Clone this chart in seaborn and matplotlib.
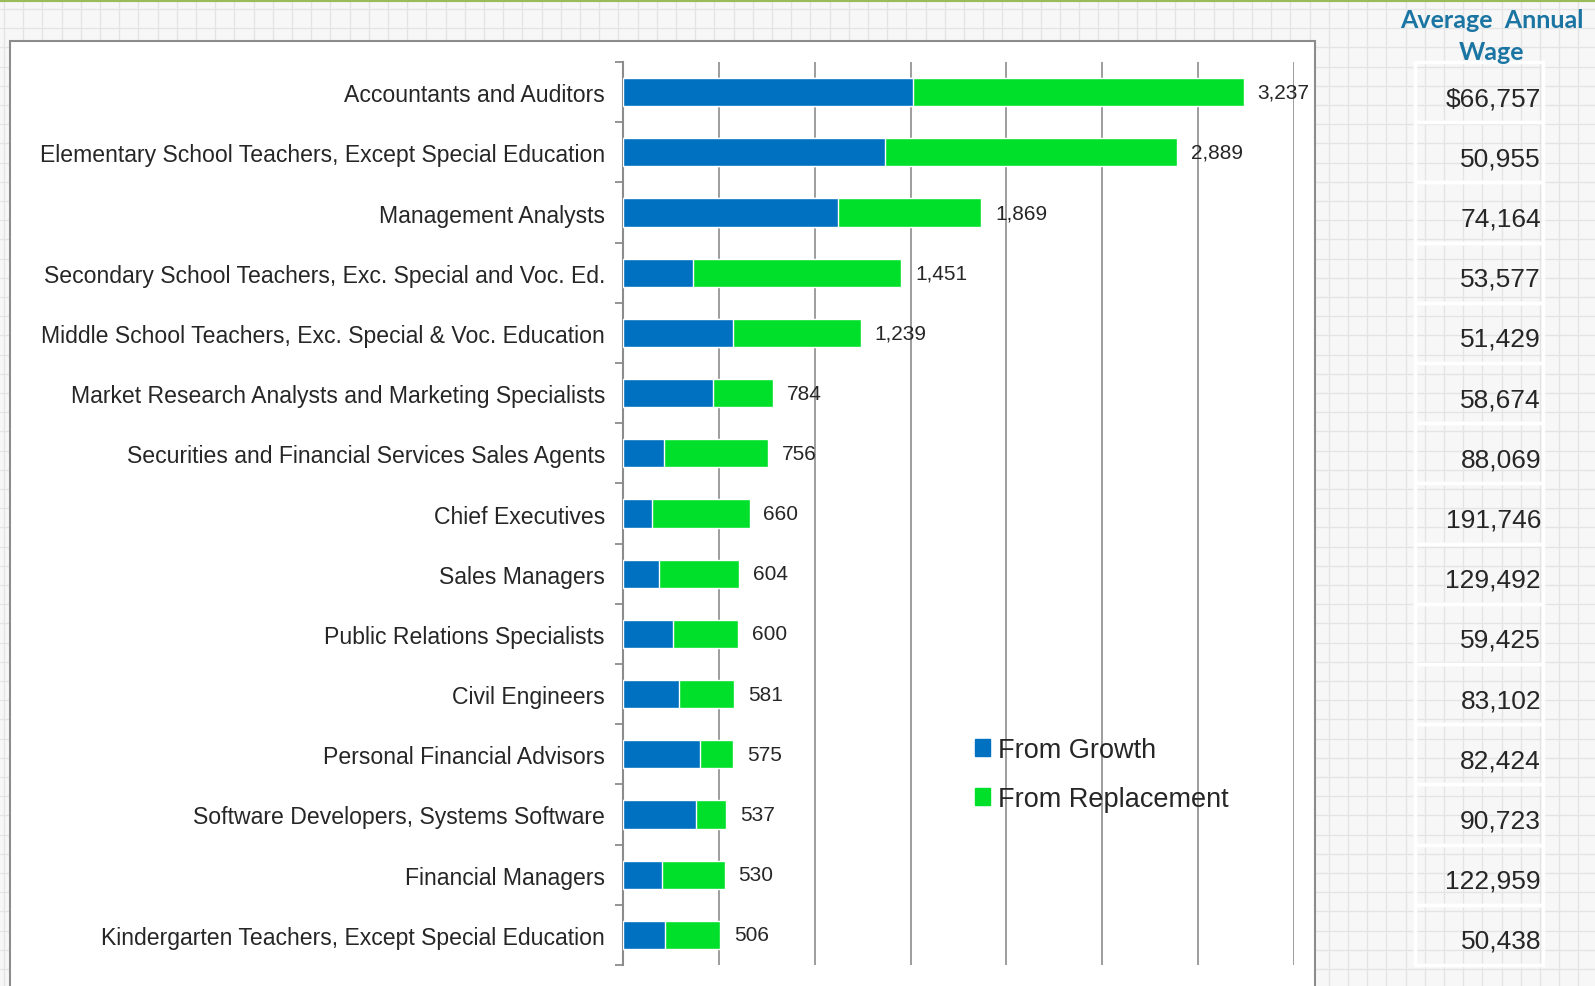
import numpy as np
import matplotlib.pyplot as plt
import matplotlib.transforms as mtransforms
from matplotlib.patches import Rectangle
import seaborn as sns

sns.set_style('white')
plt.rcParams['font.family'] = ['Liberation Sans', 'DejaVu Sans']

occupations = [
    'Accountants and Auditors',
    'Elementary School Teachers, Except Special Education',
    'Management Analysts',
    'Secondary School Teachers, Exc. Special and Voc. Ed.',
    'Middle School Teachers, Exc. Special & Voc. Education',
    'Market Research Analysts and Marketing Specialists',
    'Securities and Financial Services Sales Agents',
    'Chief Executives',
    'Sales Managers',
    'Public Relations Specialists',
    'Civil Engineers',
    'Personal Financial Advisors',
    'Software Developers, Systems Software',
    'Financial Managers',
    'Kindergarten Teachers, Except Special Education',
]
from_growth = [1513, 1365, 1120, 366, 573, 467, 212, 149, 186, 260, 292, 404, 382, 202, 218]
totals = [3237, 2889, 1869, 1451, 1239, 784, 756, 660, 604, 600, 581, 575, 537, 530, 506]
from_replacement = [t - g for t, g in zip(totals, from_growth)]
wages = ['$66,757', '50,955', '74,164', '53,577', '51,429', '58,674', '88,069',
         '191,746', '129,492', '59,425', '83,102', '82,424', '90,723', '122,959', '50,438']

BLUE = '#0070c0'
GREEN = '#00e02a'
GRID = '#8c8c8c'

W, H = 1595, 987
fig = plt.figure(figsize=(W / 100, H / 100), dpi=100)
fig.patch.set_facecolor('#f7f7f7')

# spreadsheet-like background
bg = fig.add_axes([0, 0, 1, 1], zorder=-10)
bg.set_xlim(0, W)
bg.set_ylim(H, 0)
bg.axis('off')
for xv in np.arange(4, W, 19.2):
    bg.axvline(xv, color='#e4e4e4', lw=1, zorder=1)
for yv in np.arange(10, H, 19.2):
    bg.axhline(yv, color='#e4e4e4', lw=1, zorder=1)
bg.add_patch(Rectangle((10, 42), 1305, H, facecolor='white',
                       edgecolor='#8c8c8c', lw=1.5, zorder=5))
bg.axhline(1, color='#9bbb59', lw=3, zorder=6)

ax = fig.add_axes([623 / W, 1 - 966 / H, (1294 - 623) / W, (966 - 63) / H])
ax.set_facecolor('none')

sns.barplot(x=totals, y=occupations, color=GREEN, width=0.47, saturation=1,
            orient='h', ax=ax, zorder=3)
sns.barplot(x=from_growth, y=occupations, color=BLUE, width=0.47, saturation=1,
            orient='h', ax=ax, zorder=4)

ax.bar_label(ax.containers[0], labels=[f'{t:,}' for t in totals],
             padding=10, fontsize=15)

ax.set_xlim(0, 3500)
ax.set_ylim(14.5, -0.5)
ax.set_xticks(range(500, 3501, 500))
ax.set_xticklabels([])
ax.tick_params(axis='x', length=0)
ax.grid(axis='x', color=GRID, lw=1.2, zorder=0)
ax.set_axisbelow(True)
ax.set_xlabel('')
ax.set_ylabel('')
ax.set_yticks(range(len(occupations)))
ax.set_yticklabels(occupations, fontsize=16.6)
ax.tick_params(axis='y', which='major', length=0, pad=13)
ax.set_yticks(np.arange(-0.5, len(occupations), 1), minor=True)
ax.tick_params(axis='y', which='minor', length=6, width=1.3, color=GRID, left=True)
for s in ['top', 'right', 'bottom']:
    ax.spines[s].set_visible(False)
ax.spines['left'].set_color(GRID)
ax.spines['left'].set_linewidth(1.5)

handles = [Rectangle((0, 0), 1, 1, color=BLUE), Rectangle((0, 0), 1, 1, color=GREEN)]
fig.legend(handles, ['From Growth', 'From Replacement'], loc='upper left',
           bbox_to_anchor=(975 / W, 1 - 738 / H), frameon=False, fontsize=19.5,
           handlelength=0.55, handleheight=0.55, handletextpad=0.3,
           labelspacing=0.85, borderpad=0, borderaxespad=0)

# wage table on the right
trans = mtransforms.blended_transform_factory(fig.transFigure, ax.transData)
fig.text(1492 / W, 1 - 20 / H, 'Average  Annual', ha='center', va='center',
         fontsize=18, fontweight='bold', color='#1b75a3', family=['Lato', 'DejaVu Sans'])
fig.text(1492 / W, 1 - 52 / H, 'Wage', ha='center', va='center',
         fontsize=18, fontweight='bold', color='#1b75a3', family=['Lato', 'DejaVu Sans'])
for i, w in enumerate(wages):
    ax.add_patch(Rectangle((1415 / W, i - 0.5), 128 / W, 1, transform=trans,
                           facecolor='none', edgecolor='white', lw=2.5, clip_on=False))
    ax.text(1541 / W, i + 0.1, w, transform=trans, ha='right', va='center',
            fontsize=19, clip_on=False)

fig.savefig('out.png', dpi=100, facecolor=fig.get_facecolor())
